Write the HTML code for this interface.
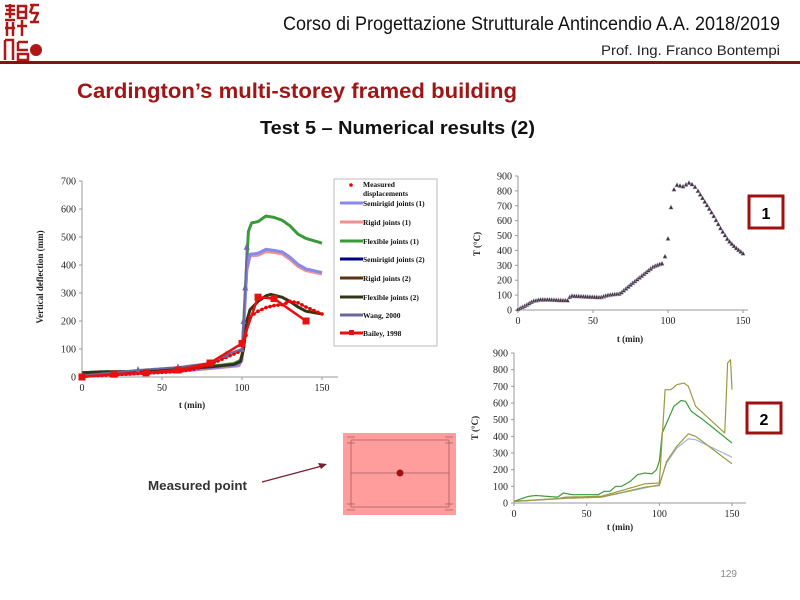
<!DOCTYPE html>
<html><head><meta charset="utf-8"><style>
html,body{margin:0;padding:0;background:#fff;width:800px;height:600px;overflow:hidden}
svg{display:block}
</style></head><body>
<svg id="s" width="800" height="600" xmlns="http://www.w3.org/2000/svg" font-family="Liberation Serif, serif">
<!-- logo -->
<rect x="2" y="2" width="40" height="60" fill="#fff"/>
<g fill="none" stroke="#b01818" stroke-width="2.5">
<path d="M5 6h10M6 10h9M5 14h10M10 4v14M5 20h10M7 22v14M13 22v14M5 28h10"/>
<path d="M18 6h8v12h-8zM18 12h8M22 20v16M17 26h10"/>
<path d="M30 5h9M33 5l-3 8M31 13h8M38 13l-4 8M30 22h9"/>
<path d="M5 40h8v20M5 40v20M18 42h10M18 42v8h10M18 54h10v6h-10z"/>
</g>
<circle cx="36" cy="50" r="6" fill="#b01818"/>
<text x="283" y="30" textLength="497" lengthAdjust="spacingAndGlyphs" font-family="Liberation Sans, sans-serif" font-size="19" fill="#111">Corso di Progettazione Strutturale Antincendio A.A. 2018/2019</text>
<text x="601" y="55" textLength="179" lengthAdjust="spacingAndGlyphs" font-family="Liberation Sans, sans-serif" font-size="14" fill="#222">Prof. Ing. Franco Bontempi</text>
<rect x="0" y="61" width="800" height="3" fill="#8b1010"/>
<text x="77" y="98" textLength="440" lengthAdjust="spacingAndGlyphs" font-family="Liberation Sans, sans-serif" font-weight="bold" font-size="21" fill="#a01515">Cardington’s multi-storey framed building</text>
<text x="260" y="134" textLength="275" lengthAdjust="spacingAndGlyphs" font-family="Liberation Sans, sans-serif" font-weight="bold" font-size="18" fill="#111">Test 5 – Numerical results (2)</text>

<g id="L" font-size="10" fill="#222"></g>
<rect x="334" y="179" width="103" height="167" fill="#fff" stroke="#bbb"/>
<g font-size="7.5" fill="#111" font-weight="bold">
<text x="363" y="187">Measured</text><text x="363" y="196">displacements</text>
<text x="363" y="206">Semirigid joints (1)</text>
<text x="363" y="225">Rigid joints (1)</text>
<text x="363" y="244">Flexible joints (1)</text>
<text x="363" y="262">Semirigid joints (2)</text>
<text x="363" y="281">Rigid joints (2)</text>
<text x="363" y="300">Flexible joints (2)</text>
<text x="363" y="318">Wang, 2000</text>
<text x="363" y="336">Bailey, 1998</text>
</g>
<g stroke-width="3">
<circle cx="351" cy="185" r="1.8" fill="#e00" stroke="none"/>
<line x1="340" x2="363" y1="203" y2="203" stroke="#8888ee"/>
<line x1="340" x2="363" y1="222" y2="222" stroke="#f09090"/>
<line x1="340" x2="363" y1="241" y2="241" stroke="#3a9a3a"/>
<line x1="340" x2="363" y1="259" y2="259" stroke="#000080"/>
<line x1="340" x2="363" y1="278" y2="278" stroke="#5a3510"/>
<line x1="340" x2="363" y1="297" y2="297" stroke="#333318"/>
<line x1="340" x2="363" y1="315" y2="315" stroke="#6a6a9a"/>
<line x1="340" x2="363" y1="333" y2="333" stroke="#e81010"/>
<rect x="349" y="330" width="5" height="5" fill="#e81010" stroke="none"/>
</g>
<g id="C1" font-size="10" fill="#222"></g>
<g id="C2" font-size="10" fill="#222"></g>
<rect x="749" y="196" width="34" height="32" fill="#fff" stroke="#a01010" stroke-width="3"/>
<text x="766" y="219" text-anchor="middle" font-family="Liberation Sans, sans-serif" font-weight="bold" font-size="16">1</text>
<rect x="747" y="403" width="34" height="30" fill="#fff" stroke="#a01010" stroke-width="3"/>
<text x="764" y="425" text-anchor="middle" font-family="Liberation Sans, sans-serif" font-weight="bold" font-size="16">2</text>

<text x="148" y="490" textLength="99" lengthAdjust="spacingAndGlyphs" font-family="Liberation Sans, sans-serif" font-weight="bold" font-size="13" fill="#333">Measured point</text>
<line x1="262" y1="482" x2="322" y2="466" stroke="#7a2030" stroke-width="1.3"/>
<path d="M327 464 L318 463 L321 469 Z" fill="#7a2030"/>
<rect x="343" y="433" width="113" height="82" fill="#ff9c9c"/>
<g stroke="#a06060" stroke-width="0.8" fill="none">
<path d="M351 440h98M351 507h98M351 440v67M449 440v67M351 473h98"/>
<path d="M347 437h8M347 443h8M445 437h8M445 443h8M347 504h8M347 510h8M445 504h8M445 510h8"/>
</g>
<circle cx="400" cy="473" r="3.5" fill="#a01010"/>
<text x="737" y="577" font-family="Liberation Sans, sans-serif" font-size="10" fill="#888" text-anchor="end">129</text>
</svg>
<script>
const NS="http://www.w3.org/2000/svg";
function el(p,t,a,txt){const e=document.createElementNS(NS,t);for(const k in a)e.setAttribute(k,a[k]);if(txt!==undefined)e.textContent=txt;document.getElementById(p).appendChild(e);return e;}
function interp(pts,x){for(let i=0;i<pts.length-1;i++){if(x>=pts[i][0]&&x<=pts[i+1][0]){const t=(x-pts[i][0])/(pts[i+1][0]-pts[i][0]);return pts[i][1]+t*(pts[i+1][1]-pts[i][1]);}}return pts[pts.length-1][1];}
function axes(g,x0,y0,sx,sy,ymax,ystep,xend){
 el(g,'line',{x1:x0,y1:y0,x2:x0,y2:y0-ymax*sy,stroke:'#999'});
 el(g,'line',{x1:x0,y1:y0,x2:xend,y2:y0,stroke:'#999'});
 for(let v=0;v<=ymax;v+=ystep){el(g,'line',{x1:x0-3,x2:x0,y1:y0-v*sy,y2:y0-v*sy,stroke:'#999'});el(g,'text',{x:x0-6,y:y0-v*sy+3.5,'text-anchor':'end'},v);}
 for(let t=0;t<=150;t+=50){el(g,'text',{x:x0+t*sx,y:y0+14,'text-anchor':'middle'},t);el(g,'line',{x1:x0+t*sx,x2:x0+t*sx,y1:y0,y2:y0+3,stroke:'#999'});}
}
function path(g,x0,y0,sx,sy,pts,col,w,step){let d='';for(let t=pts[0][0];t<=pts[pts.length-1][0]+0.001;t+=step){d+=(d?'L':'M')+(x0+t*sx).toFixed(1)+' '+(y0-interp(pts,t)*sy).toFixed(1);}el(g,'path',{d:d,fill:'none',stroke:col,'stroke-width':w,'stroke-linejoin':'round'});}
const LX=82,LY=377,Lsx=1.6,Lsy=0.28;
axes('L',LX,LY,Lsx,Lsy,700,100,338);
el('L','text',{x:192,y:408,'text-anchor':'middle','font-weight':'bold','font-size':9},'t (min)');
el('L','text',{x:0,y:0,transform:'translate(43,277) rotate(-90)','text-anchor':'middle','font-weight':'bold','font-size':9},'Vertical deflection (mm)');
const base=[[0,15],[10,18],[35,20],[60,28],[80,38],[95,48],[99,60]];
path('L',LX,LY,Lsx,Lsy,base.concat([[100,80],[102,300],[104,520],[106,550],[110,555],[115,575],[120,570],[125,560],[130,540],[135,510],[140,495],[150,478]]),'#3a9a3a',3,1);
path('L',LX,LY,Lsx,Lsy,[[0,5],[30,10],[60,20],[80,30],[98,40],[100,60],[103,380],[105,432],[110,435],[115,448],[120,445],[125,440],[130,420],[135,395],[140,380],[150,368]],'#f09090',3,1);
path('L',LX,LY,Lsx,Lsy,[[0,5],[30,10],[60,20],[80,32],[98,42],[100,62],[103,385],[105,438],[110,442],[115,456],[120,452],[125,447],[130,428],[135,402],[140,386],[150,373]],'#8888ee',3,1);
const dk=[[0,15],[10,18],[35,20],[60,28],[80,36],[95,45],[99,55],[101,100],[103,200],[105,240],[110,270],[115,290],[118,295],[125,285],[130,270],[135,250],[140,235],[150,225]];
path('L',LX,LY,Lsx,Lsy,dk,'#5a3510',3,1);
path('L',LX,LY,Lsx,Lsy,dk,'#333318',2.5,1);
const ms=[[0,3],[20,8],[40,14],[60,20],[70,28],[80,45],[90,70],[100,95],[103,160],[105,215],[110,235],[115,248],[120,255],[125,258],[130,270],[135,265],[140,250],[150,225]];
path('L',LX,LY,Lsx,Lsy,ms,'#e81010',1.5,1);
for(let t=0;t<=150;t+=2.5){const v=interp(ms,t);el('L','circle',{cx:LX+t*Lsx,cy:LY-v*Lsy,r:1.8,fill:'#e00'});}
const wang=[[0,5],[35,25],[60,35],[80,50],[90,80],[100,100],[101,200],[102,320],[103,465]];
path('L',LX,LY,Lsx,Lsy,wang,'#6a6a9a',2,0.5);
wang.forEach(p=>{const x=LX+p[0]*Lsx,y=LY-p[1]*Lsy;el('L','path',{d:`M${x-3} ${y+3}L${x} ${y-4}L${x+3} ${y+3}Z`,fill:'#6a6a9a'});});
const bai=[[0,0],[20,10],[40,15],[60,25],[80,50],[100,120],[110,285],[120,280],[140,200]];
path('L',LX,LY,Lsx,Lsy,bai,'#e81010',2.5,0.5);
bai.forEach(p=>el('L','rect',{x:LX+p[0]*Lsx-3.5,y:LY-p[1]*Lsy-3.5,width:7,height:7,fill:'#e81010'}));
const AX=518,AY=310,Asx=1.5,Asy=134/900;
axes('C1',AX,AY,Asx,Asy,900,100,748);
el('C1','text',{x:630,y:342,'text-anchor':'middle','font-weight':'bold','font-size':9},'t (min)');
el('C1','text',{x:0,y:0,transform:'translate(480,244) rotate(-90)','text-anchor':'middle','font-weight':'bold','font-size':9},'T (°C)');
const c1=[[0,5],[5,30],[10,60],[15,70],[20,70],[30,65],[33,65],[35,95],[45,90],[55,85],[60,100],[68,110],[75,170],[85,250],[90,290],[95,310],[97,315],[98,360],[100,480],[102,690],[104,810],[106,840],[110,830],[114,855],[117,840],[120,800],[125,720],[130,640],[135,550],[140,470],[145,420],[150,380]];
const c1t=[];for(let t=0;t<=96;t+=1.5)c1t.push(t);c1t.push(98,100,102,104,106,108,110,112,114,116,118);for(let t=120;t<=150;t+=1.5)c1t.push(t);
c1t.forEach(t=>{const x=AX+t*Asx,y=AY-interp(c1,t)*Asy;el('C1','path',{d:`M${x-2.3} ${y+2}L${x} ${y-2.5}L${x+2.3} ${y+2}Z`,fill:'#4a3040',stroke:'#bcd',"stroke-width":0.4});});
const BX=514,BY=503,Bsx=218/150,Bsy=150/900;
axes('C2',BX,BY,Bsx,Bsy,900,100,746);
el('C2','text',{x:620,y:530,'text-anchor':'middle','font-weight':'bold','font-size':9},'t (min)');
el('C2','text',{x:0,y:0,transform:'translate(478,428) rotate(-90)','text-anchor':'middle','font-weight':'bold','font-size':9},'T (°C)');
path('C2',BX,BY,Bsx,Bsy,[[0,10],[35,30],[60,35],[90,90],[100,110],[105,240],[112,330],[120,385],[125,380],[150,275]],'#9cb8e0',1.2,0.5);
path('C2',BX,BY,Bsx,Bsy,[[0,10],[35,28],[60,35],[90,95],[100,105],[105,250],[112,340],[120,415],[125,400],[150,235]],'#9a9a40',1.2,0.5);
path('C2',BX,BY,Bsx,Bsy,[[0,10],[10,40],[15,45],[30,35],[34,60],[40,50],[58,50],[62,70],[66,70],[70,100],[74,100],[80,130],[85,170],[90,180],[95,175],[98,200],[100,250],[102,420],[105,480],[110,580],[115,615],[118,610],[122,550],[130,500],[150,360]],'#3a9a3a',1.2,0.5);
path('C2',BX,BY,Bsx,Bsy,[[0,10],[30,25],[35,35],[60,40],[90,115],[100,120],[102,400],[104,680],[108,680],[112,710],[117,720],[120,700],[125,580],[145,420],[147,840],[149,860],[150,680]],'#9a9a40',1.2,0.5);
</script>
</body></html>
